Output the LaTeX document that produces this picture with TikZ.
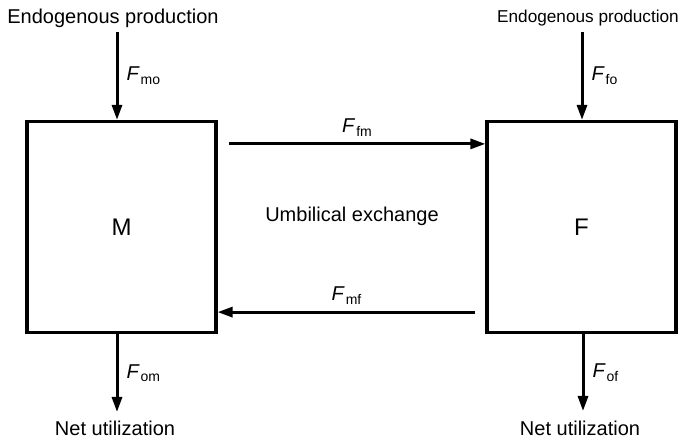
\documentclass[tikz,border=0pt]{standalone}
\usepackage{fontspec}
\setmainfont{Liberation Sans}
\usetikzlibrary{arrows.meta,positioning}
\newcommand{\flux}[1]{\textit{F}\kern.5pt\raisebox{-.35ex}{\scriptsize #1}}
\tikzset{
    %Define standard arrow tip
    >={Triangle[length=7.5pt,width=5pt]},
    %Define style for compartments
    compart/.style={
           rectangle,
           draw=black, line width=1.6pt,
           minimum width=94.5pt,
           minimum height=105.5pt,
           font=\large,
           text centered},
    % Define arrow style
    flow/.style={
           ->,
           line width=1.5pt},
    lbl/.style={font=\normalsize, inner sep=2pt}
}
\begin{document}
\begin{tikzpicture}[x=0.5pt,y=-0.5pt,every node/.style={lbl}]
\useasboundingbox (0,0) rectangle (684,437);

 %nodes
\node[compart] (M) at (121.5,227) {M};
\node[compart] (F) at (581.5,227) {F};
\node (exch) at (352,216) {Umbilical exchange};

\node (prodM) at (113,18) {Endogenous production};
\node[font=\fontsize{8.6}{10}\selectfont] (prodF) at (588,18) {Endogenous production};
\node (utilM) at (115,428) {Net utilization};
\node (utilF) at (580,428) {Net utilization};

\coordinate (inM) at (117,32);
\coordinate (inF) at (582,32);
\coordinate (outM) at (117,412);
\coordinate (outF) at (583,411);

 %flows
\draw[flow] (inM) -- (inM |- M.north) node[midway,right=2pt] {\flux{mo}};
\draw[flow] (inF) -- (inF |- F.north) node[midway,right=2pt] {\flux{fo}};
\draw[flow] (outM |- M.south) -- (outM) node[midway,right=2pt] {\flux{om}};
\draw[flow] (outF |- F.south) -- (outF) node[midway,right=2pt] {\flux{of}};

\draw[flow] ([shift={(11,24)}]M.north east) -- ([shift={(0,24)}]F.north west)
    node[midway,above=1pt] {\flux{fm}};
\draw[flow] ([shift={(-10,-22)}]F.south west) -- ([shift={(0,-22)}]M.south east)
    node[midway,above=1pt] {\flux{mf}};

\end{tikzpicture}
\end{document}
